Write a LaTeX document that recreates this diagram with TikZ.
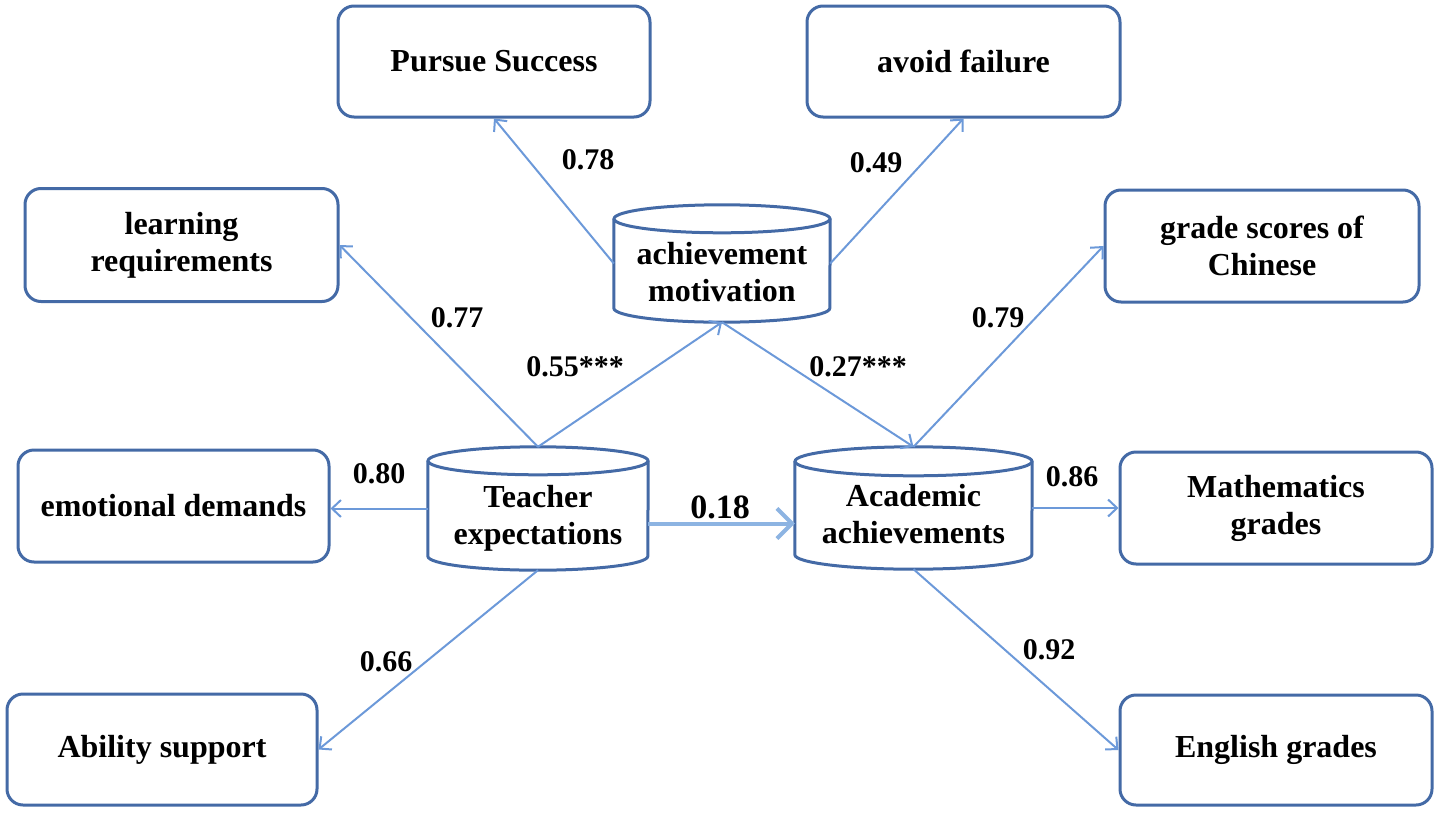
\documentclass[tikz,border=0pt]{standalone}
\usepackage{fontspec}
\setmainfont{Liberation Serif}
\usetikzlibrary{arrows.meta,calc}
\definecolor{boxblue}{RGB}{68,106,166}
\definecolor{arrblue}{RGB}{108,153,217}
\definecolor{bigarr}{RGB}{141,180,226}
\tikzset{
  box/.style={draw=boxblue, line width=3pt, rounded corners=16pt, fill=white,
    align=center, inner sep=0pt, font=\bfseries\fontsize{32}{37}\selectfont},
  cyl/.style={draw=none, inner sep=0pt, align=center,
    font=\bfseries\fontsize{32}{37}\selectfont},
  cylline/.style={draw=boxblue, line width=3pt},
  conn/.style={draw=arrblue, line width=2pt,
    -{Straight Barb[length=9pt,width=17pt]}},
  bigconn/.style={draw=bigarr, line width=4pt,
    -{Straight Barb[length=15pt,width=30pt]}},
  lab/.style={inner sep=0pt, font=\bfseries\fontsize{30}{36}\selectfont},
  biglab/.style={inner sep=0pt, font=\bfseries\fontsize{34}{40}\selectfont},
}
\newcommand\cylout[3]{%
  \draw[cylline] ($(#1.north west)+(0pt,-#3)$) -- ($(#1.south west)+(0pt,#3)$)
    arc[start angle=180,end angle=360,x radius=#2,y radius=#3]
    -- ($(#1.north east)+(0pt,-#3)$);
  \draw[cylline] ($(#1.north)+(0pt,-#3)$) ellipse[x radius=#2,y radius=#3];}
\newcommand\cyltext[2]{\raisebox{-#1}[\height][\depth]{\begin{tabular}{@{}c@{}}#2\end{tabular}}}
\begin{document}
\begin{tikzpicture}[x=1pt,y=-1pt]
\useasboundingbox (0,0) rectangle (1441,814);
% boxes
\node[box, minimum width=312pt, minimum height=111pt] (PS) at (494,61.5) {Pursue Success};
\node[box, minimum width=313pt, minimum height=111pt] (AF) at (963.5,61.5) {avoid failure};
\node[box, minimum width=313pt, minimum height=113pt] (LR) at (181.5,245) {learning\\requirements};
\node[box, minimum width=314pt, minimum height=112pt] (GS) at (1262,246) {grade scores of\\Chinese};
\node[box, minimum width=311pt, minimum height=112pt] (ED) at (173.5,506) {emotional demands};
\node[box, minimum width=312pt, minimum height=112pt] (MG) at (1276,508) {Mathematics\\grades};
\node[box, minimum width=310pt, minimum height=111pt] (AS) at (162,749.5) {Ability support};
\node[box, minimum width=312pt, minimum height=110pt] (EG) at (1276,750) {English grades};
% cylinders
\node[cyl, minimum width=216pt, minimum height=117pt] (AM) at (722,263.5) {\cyltext{12pt}{achievement\\motivation}};
\node[cyl, minimum width=220pt, minimum height=123pt] (TE) at (538,508.5) {\cyltext{10pt}{Teacher\\expectations}};
\node[cyl, minimum width=237pt, minimum height=122pt] (AA) at (913.5,508) {\cyltext{10pt}{Academic\\achievements}};
\cylout{AM}{108pt}{14pt}
\cylout{TE}{110pt}{14pt}
\cylout{AA}{118.5pt}{14.5pt}
% connectors
\draw[conn] (AM.west) -- (PS.south);
\draw[conn] (AM.east) -- (AF.south);
\draw[conn] (TE.north) -- (LR.east);
\draw[conn] (TE.north) -- (AM.south);
\draw[conn] (AM.south) -- (AA.north);
\draw[conn] (AA.north) -- (GS.west);
\draw[conn] (TE.west) -- (TE.west -| ED.east);
\draw[bigconn] ([yshift=-15pt]TE.east) -- ([yshift=-15pt]TE.east -| AA.west);
\draw[conn] (AA.east) -- (AA.east -| MG.west);
\draw[conn] (TE.south) -- (AS.east);
\draw[conn] (AA.south) -- (EG.west);
% labels
\node[lab] (l78) at (588,160) {0.78};
\node[lab] (l49) at (876,163) {0.49};
\node[lab] (l77) at (457,318) {0.77};
\node[lab] (l55) at (575,367) {0.55***};
\node[lab] (l27) at (858,367) {0.27***};
\node[lab] (l79) at (998,318) {0.79};
\node[lab] (l80) at (379,474) {0.80};
\node[biglab] (l18) at (720,507) {0.18};
\node[lab] (l86) at (1072,477) {0.86};
\node[lab] (l66) at (386,662) {0.66};
\node[lab] (l92) at (1049,650) {0.92};
\end{tikzpicture}
\end{document}
